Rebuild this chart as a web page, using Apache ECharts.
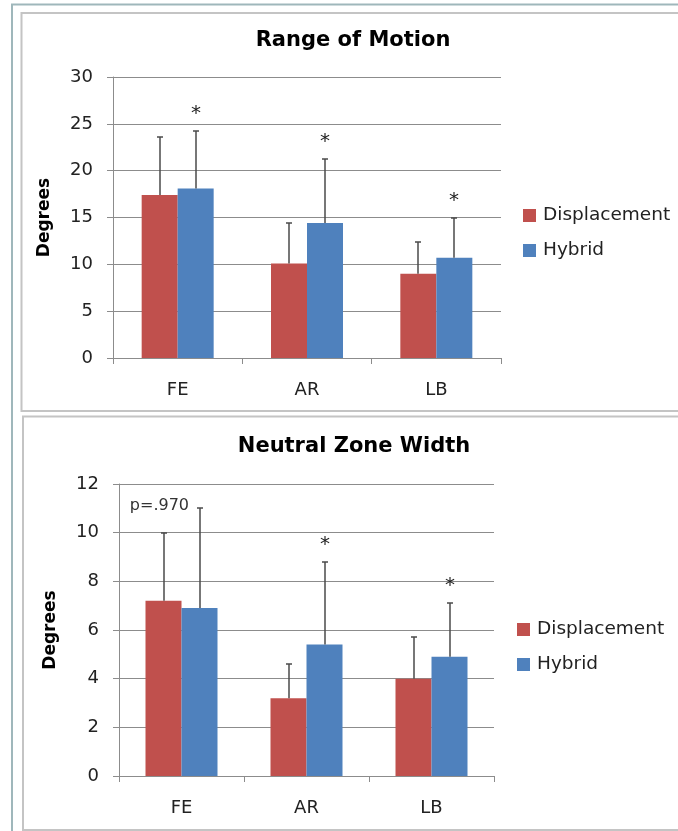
<!DOCTYPE html>
<html>
<head>
<meta charset="utf-8">
<script src="https://cdn.jsdelivr.net/npm/echarts@6/dist/echarts.min.js"></script>
<style>
  html, body { margin: 0; padding: 0; background: #fff; }
  #chart { width: 678px; height: 831px; }
</style>
</head>
<body>
<div id="chart"></div>
<script>
// Motion segments on the x axis
const categories = ['FE', 'AR', 'LB'];
const seriesNames = ['Displacement', 'Hybrid'];

// Range of Motion (degrees): means and standard deviations
const romDisplacement = [17.4, 10.1, 9.0];
const romDisplacementSD = [6.2, 4.3, 3.4];
const romHybrid = [18.1, 14.4, 10.7];
const romHybridSD = [6.1, 6.8, 4.3];
const romMarks = ['*', '*', '*'];

// Neutral Zone Width (degrees): means and standard deviations
const nzwDisplacement = [7.2, 3.2, 4.0];
const nzwDisplacementSD = [2.8, 1.4, 1.7];
const nzwHybrid = [6.9, 5.4, 4.9];
const nzwHybridSD = [4.1, 3.4, 2.2];
const nzwMarks = ['p=.970', '*', '*'];

// Value axis ranges
const romAxis = { min: 0, max: 30, interval: 5 };
const nzwAxis = { min: 0, max: 12, interval: 2 };

const FONT = 'DejaVu Sans';
const RED = '#C0504D';
const BLUE = '#4F81BD';
const GRID_GRAY = '#8c8c8c';
const ERR_GRAY = '#4a4a4a';
const BAR_W = 36;

function valueAxis(gridIndex, range) {
  return {
    type: 'value', gridIndex,
    min: range.min, max: range.max, interval: range.interval,
    name: 'Degrees', nameLocation: 'middle', nameRotate: 90, nameGap: 60,
    nameTextStyle: { fontFamily: FONT, fontSize: 17, fontWeight: 'bold', color: '#000' },
    axisLine: { show: true, lineStyle: { color: GRID_GRAY, width: 1 } },
    axisTick: { show: true, length: 6, lineStyle: { color: GRID_GRAY } },
    splitLine: { show: true, lineStyle: { color: GRID_GRAY, width: 1 } },
    axisLabel: { margin: 20, fontFamily: FONT, fontSize: 18, color: '#222' }
  };
}

function categoryAxis(gridIndex) {
  return {
    type: 'category', gridIndex, data: categories,
    axisLine: { lineStyle: { color: GRID_GRAY, width: 1 } },
    axisTick: { show: true, length: 6, alignWithLabel: false, lineStyle: { color: GRID_GRAY } },
    axisLabel: { margin: 23, fontFamily: FONT, fontSize: 18, color: '#222' }
  };
}

function barSeries(gridIndex, name, values, color) {
  return {
    type: 'bar', name, xAxisIndex: gridIndex, yAxisIndex: gridIndex,
    data: values, barWidth: BAR_W, barGap: '0%',
    itemStyle: { color }, silent: true, z: 2
  };
}

// Error bar (mean to mean + SD, capped) with an optional annotation above it
function errorSeries(gridIndex, name, means, sds, side, marks) {
  return {
    type: 'custom', name, xAxisIndex: gridIndex, yAxisIndex: gridIndex,
    silent: true, z: 5,
    data: means.map((m, i) => [i, m, sds[i]]),
    encode: { x: 0, y: 1 },
    renderItem(params, api) {
      const i = api.value(0);
      const base = api.coord([i, api.value(1)]);
      const top = api.coord([i, api.value(1) + api.value(2)]);
      const x = Math.round(base[0] + side * BAR_W / 2);
      const yTop = Math.round(top[1]);
      const children = [
        { type: 'line', shape: { x1: x, y1: base[1], x2: x, y2: yTop },
          style: { stroke: ERR_GRAY, lineWidth: 1.5 } },
        { type: 'line', shape: { x1: x - 3, y1: yTop, x2: x + 3, y2: yTop },
          style: { stroke: ERR_GRAY, lineWidth: 1.5 } }
      ];
      const mark = marks ? marks[params.dataIndex] : '';
      if (mark === '*') {
        children.push({ type: 'text', x: x, y: yTop - 17,
          style: { text: '*', fontFamily: FONT, fontSize: 20, fill: '#222',
                   align: 'center', verticalAlign: 'middle' } });
      } else if (mark) {
        children.push({ type: 'text', x: x - 11, y: yTop - 2,
          style: { text: mark, fontFamily: FONT, fontSize: 16, fill: '#333',
                   align: 'right', verticalAlign: 'middle' } });
      }
      return { type: 'group', children };
    }
  };
}

function legend(left, top) {
  return {
    orient: 'vertical', left, top, data: seriesNames, padding: 0,
    icon: 'rect', itemWidth: 13, itemHeight: 13, itemGap: 16,
    selectedMode: false,
    textStyle: { fontFamily: FONT, fontSize: 18.5, color: '#222', padding: [0, 0, 0, 2] }
  };
}

const chart = echarts.init(document.getElementById('chart'), null, { renderer: 'canvas' });

chart.setOption({
  backgroundColor: '#fff',
  animation: false,
  title: [
    { text: 'Range of Motion', left: 353, top: 30, textAlign: 'center', padding: 0,
      textStyle: { fontFamily: FONT, fontSize: 21, fontWeight: 'bold', color: '#000' } },
    { text: 'Neutral Zone Width', left: 354, top: 436, textAlign: 'center', padding: 0,
      textStyle: { fontFamily: FONT, fontSize: 21, fontWeight: 'bold', color: '#000' } }
  ],
  legend: [legend(523, 206), legend(517, 620)],
  grid: [
    { left: 113, top: 77, width: 388, height: 281 },
    { left: 119, top: 484, width: 375, height: 292 }
  ],
  xAxis: [categoryAxis(0), categoryAxis(1)],
  yAxis: [valueAxis(0, romAxis), valueAxis(1, nzwAxis)],
  series: [
    barSeries(0, seriesNames[0], romDisplacement, RED),
    barSeries(0, seriesNames[1], romHybrid, BLUE),
    errorSeries(0, 'romDispErr', romDisplacement, romDisplacementSD, -1, null),
    errorSeries(0, 'romHybErr', romHybrid, romHybridSD, 1, romMarks),
    barSeries(1, seriesNames[0], nzwDisplacement, RED),
    barSeries(1, seriesNames[1], nzwHybrid, BLUE),
    errorSeries(1, 'nzwDispErr', nzwDisplacement, nzwDisplacementSD, -1, null),
    errorSeries(1, 'nzwHybErr', nzwHybrid, nzwHybridSD, 1, nzwMarks)
  ],
  graphic: [
    // outer page frame
    { type: 'polyline', silent: true, z: 0,
      shape: { points: [[12, 831], [12, 4.5], [678, 4.5]] },
      style: { stroke: '#9fb7bb', lineWidth: 2, fill: null } },
    // chart area frames
    { type: 'rect', silent: true, z: 0,
      shape: { x: 21.5, y: 13, width: 700, height: 398 },
      style: { stroke: '#c4c4c4', lineWidth: 2, fill: null } },
    { type: 'rect', silent: true, z: 0,
      shape: { x: 23, y: 416.5, width: 700, height: 413.5 },
      style: { stroke: '#c4c4c4', lineWidth: 2, fill: null } }
  ]
});
</script>
</body>
</html>
